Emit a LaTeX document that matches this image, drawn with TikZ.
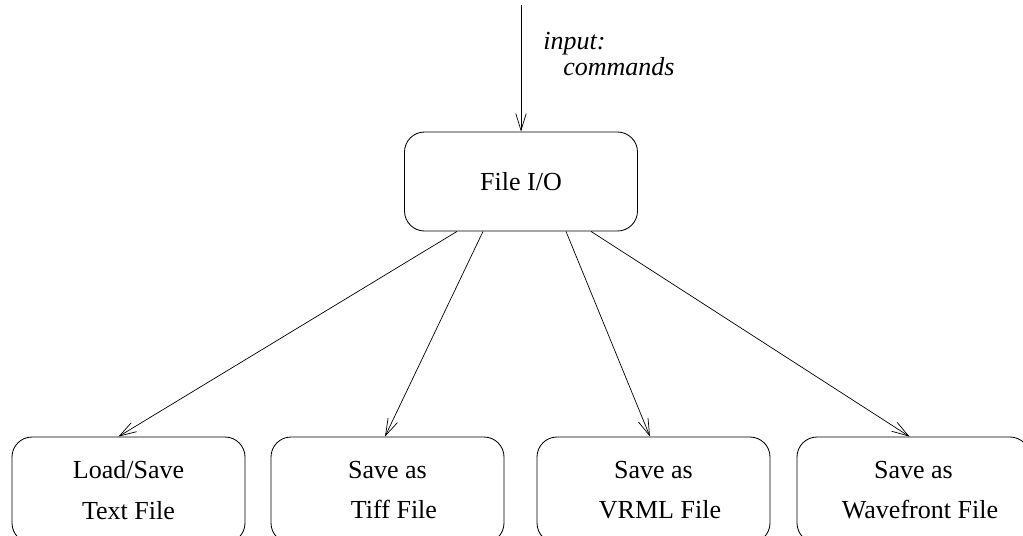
\documentclass[tikz,border=0pt]{standalone}
\usepackage{fontspec}
\setmainfont{Liberation Serif}
\usetikzlibrary{arrows.meta}
\tikzset{
  box/.style={draw, rounded corners=0.5cm, line width=0.6pt, inner sep=0pt,
    minimum width=233*0.025cm, align=center,
    font=\fontsize{18.5}{29}\selectfont},
  flow/.style={line width=0.5pt, -{Straight Barb[length=0.42cm, width=0.26cm]}}
}
\begin{document}
\begin{tikzpicture}[x=0.025cm, y=-0.025cm]
\useasboundingbox (0,0) rectangle (1023,535);
\clip (0,0) rectangle (1023,535);
\path node[box, minimum height=99*0.025cm] (io) at (521,181.5) {File I/O}
node[box, minimum height=106*0.025cm] (txt) at (128.5,490) {Load/Save\\Text File}
node[box, minimum height=106*0.025cm] (tiff) at (387.5,490) {Save as\\\ \ Tiff File}
node[box, minimum height=106*0.025cm] (vrml) at (653.5,490) {Save as\\\ \ VRML File}
node[box, minimum height=106*0.025cm] (wave) at (913.5,490) {Save as\\\ \ Wavefront File}
node[anchor=north west, align=left, inner sep=0pt,
  font=\fontsize{18.5}{18.5}\selectfont\itshape] (cmd) at (543,32) {input:\\\hspace{0.5cm}commands}
;
\coordinate (in) at (521,5);
\draw[flow] (in) -- (io);
\draw[flow] ([xshift=-64*0.025cm]io.south) -- ([xshift=-10*0.025cm]txt.north);
\draw[flow] ([xshift=-38*0.025cm]io.south) -- ([xshift=-2.5*0.025cm]tiff.north);
\draw[flow] ([xshift=45*0.025cm]io.south) -- ([xshift=-3.5*0.025cm]vrml.north);
\draw[flow] ([xshift=70*0.025cm]io.south) -- ([xshift=-4*0.025cm]wave.north);
\end{tikzpicture}
\end{document}
